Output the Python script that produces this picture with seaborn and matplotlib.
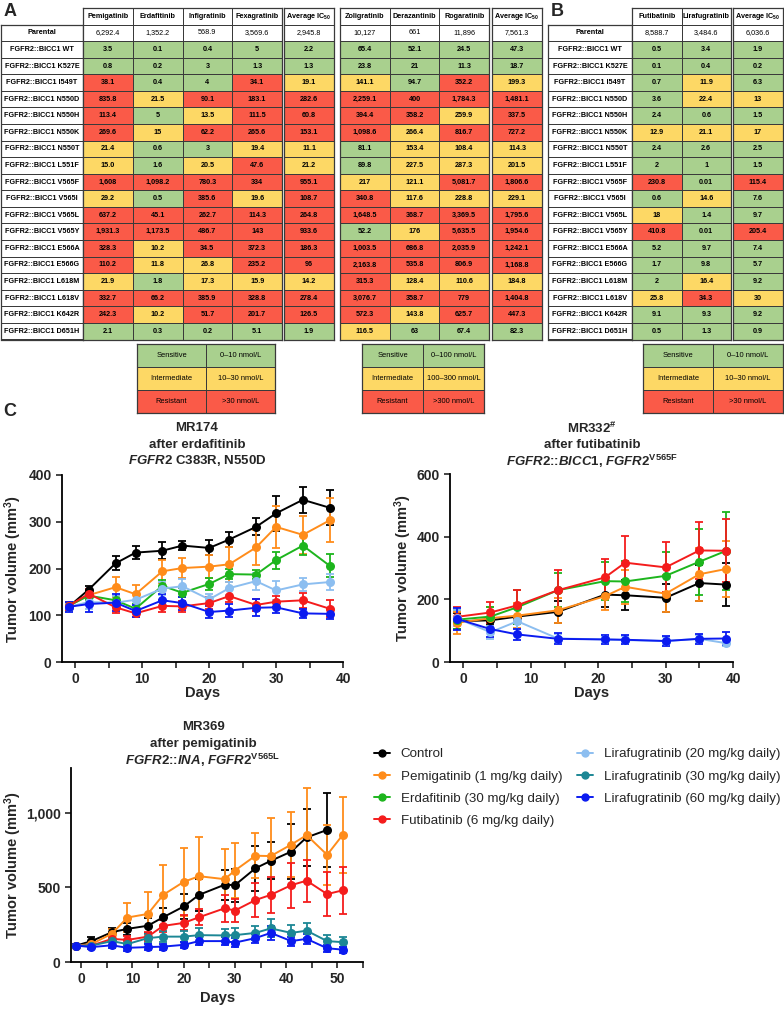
"""FGFR2 fusion resistance: IC50 tables and PDX growth curves."""

import matplotlib

matplotlib.use("Agg")

import matplotlib.pyplot as plt
import matplotlib.ticker as mticker
import numpy as np
import pandas as pd
import seaborn as sns
from matplotlib.colors import ListedColormap
from matplotlib.lines import Line2D

W, H = 784, 1009

# ---------------------------------------------------------------- table data
mutations = [
    "WT", "K527E", "I549T", "N550D", "N550H", "N550K", "N550T", "L551F", "V565F",
    "V565I", "V565L", "V565Y", "E566A", "E566G", "L618M", "L618V", "K642R", "D651H",
]
row_names = ["Parental"] + [f"FGFR2::BICC1 {m}" for m in mutations]

pemigatinib = ["6,292.4", "3.5", "0.8", "38.1", "835.8", "113.4", "269.6", "21.4", "15.0", "1,608",
               "29.2", "637.2", "1,931.3", "328.3", "110.2", "21.9", "332.7", "242.3", "2.1"]
erdafitinib = ["1,352.2", "0.1", "0.2", "0.4", "21.5", "5", "15", "0.6", "1.6", "1,098.2",
               "0.5", "45.1", "1,173.5", "10.2", "11.8", "1.8", "66.2", "10.2", "0.3"]
infigratinib = ["568.9", "0.4", "3", "4", "90.1", "13.5", "62.2", "3", "20.5", "780.3",
                "385.6", "262.7", "486.7", "34.5", "26.8", "17.3", "385.9", "51.7", "0.2"]
fexagratinib = ["3,569.6", "5", "1.3", "34.1", "183.1", "111.5", "265.6", "19.4", "47.6", "334",
                "19.6", "114.3", "143", "372.3", "235.2", "15.9", "328.8", "201.7", "5.1"]
average_a1 = ["2,945.8", "2.2", "1.3", "19.1", "282.6", "60.8", "153.1", "11.1", "21.2", "955.1",
              "108.7", "264.8", "933.6", "186.3", "96", "14.2", "278.4", "126.5", "1.9"]

zoligratinib = ["10,127", "65.4", "23.8", "141.1", "2,259.1", "394.4", "1,098.6", "81.1", "89.8", "217",
                "340.8", "1,648.5", "52.2", "1,003.5", "2,163.8", "315.3", "3,076.7", "572.3", "116.5"]
derazantinib = ["661", "52.1", "21", "94.7", "400", "358.2", "266.4", "153.4", "227.5", "121.1",
                "117.6", "368.7", "176", "686.8", "535.8", "128.4", "358.7", "143.8", "63"]
rogaratinib = ["11,896", "24.5", "11.3", "352.2", "1,784.3", "259.9", "816.7", "108.4", "287.3", "5,081.7",
               "228.8", "3,369.5", "5,635.5", "2,035.9", "806.9", "110.6", "779", "625.7", "67.4"]
average_a2 = ["7,561.3", "47.3", "18.7", "199.3", "1,481.1", "337.5", "727.2", "114.3", "201.5", "1,806.6",
              "229.1", "1,795.6", "1,954.6", "1,242.1", "1,168.8", "184.8", "1,404.8", "447.3", "82.3"]

futibatinib = ["8,588.7", "0.5", "0.1", "0.7", "3.6", "2.4", "12.9", "2.4", "2", "230.8",
               "0.6", "18", "410.8", "5.2", "1.7", "2", "25.8", "9.1", "0.5"]
lirafugratinib = ["3,484.6", "3.4", "0.4", "11.9", "22.4", "0.6", "21.1", "2.6", "1", "0.01",
                  "14.6", "1.4", "0.01", "9.7", "9.8", "16.4", "34.3", "9.3", "1.3"]
average_b = ["6,036.6", "1.9", "0.2", "6.3", "13", "1.5", "17", "2.5", "1.5", "115.4",
             "7.6", "9.7", "205.4", "7.4", "5.7", "9.2", "30", "9.2", "0.9"]

avg_header = "Average IC$_{50}$"
class_names = ["Sensitive", "Intermediate", "Resistant"]
cutoffs_a1 = (10, 30)
cutoffs_a2 = (100, 300)
cutoffs_b = (10, 30)

# ---------------------------------------------------------------- growth data
mr174_days = [-1, 2, 6, 9, 13, 16, 20, 23, 27, 30, 34, 38]
mr174_control = [118, 155, 211, 234, 238, 249, 244, 262, 289, 318, 347, 330]
mr174_control_sem = [8, 8, 15, 14, 18, 10, 16, 16, 18, 37, 28, 38]
mr174_pemi = [120, 143, 160, 145, 194, 201, 204, 209, 245, 289, 272, 303]
mr174_pemi_sem = [8, 10, 22, 20, 25, 22, 25, 38, 37, 45, 40, 47]
mr174_erda = [120, 142, 132, 114, 163, 148, 167, 188, 187, 218, 249, 206]
mr174_erda_sem = [8, 10, 10, 10, 12, 10, 12, 10, 10, 18, 20, 24]
mr174_futi = [120, 146, 117, 104, 120, 119, 126, 141, 122, 129, 132, 114]
mr174_futi_sem = [8, 10, 12, 8, 12, 12, 12, 12, 12, 12, 16, 18]
mr174_lira20 = [118, 128, 127, 133, 157, 162, 134, 158, 173, 153, 166, 171]
mr174_lira20_sem = [8, 14, 15, 12, 14, 15, 12, 14, 18, 20, 14, 18]
mr174_lira60 = [118, 124, 127, 109, 132, 126, 107, 110, 116, 117, 104, 103]
mr174_lira60_sem = [10, 18, 18, 12, 14, 14, 12, 14, 18, 12, 10, 10]

mr332_days = [-1, 4, 8, 14, 21, 24, 30, 35, 39]
mr332_control = [130, 133, 145, 160, 215, 213, 205, 252, 247]
mr332_control_sem = [25, 12, 25, 35, 40, 48, 45, 58, 68]
mr332_pemi = [125, 140, 148, 165, 210, 240, 218, 280, 297]
mr332_pemi_sem = [35, 35, 40, 40, 45, 55, 60, 85, 88]
mr332_erda = [135, 145, 175, 229, 258, 257, 275, 320, 355]
mr332_erda_sem = [30, 30, 55, 55, 60, 65, 75, 105, 125]
mr332_futi = [144, 158, 181, 229, 270, 317, 302, 356, 355]
mr332_futi_sem = [30, 35, 50, 65, 58, 85, 80, 90, 100]
mr332_lira20 = [140, 95, 130, 75, 72, 70, 67, 74, 60]
mr332_lira20_sem = [25, 20, 40, 15, 12, 12, 12, 12, 10]
mr332_lira60 = [138, 105, 88, 74, 72, 71, 67, 74, 75]
mr332_lira60_sem = [35, 25, 18, 18, 15, 15, 15, 15, 20]

mr369_days = [-1, 2, 6, 9, 13, 16, 20, 23, 28, 30, 34, 37, 41, 44, 48, 51]
mr369_control = [110, 140, 200, 222, 243, 300, 372, 450, 518, 515, 628, 678, 740, 835, 885]
mr369_control_sem = [10, 25, 25, 40, 50, 60, 85, 105, 100, 110, 150, 125, 185, 190, 250]
mr369_pemi = [110, 120, 190, 298, 322, 450, 537, 575, 555, 613, 712, 710, 787, 850, 718, 850]
mr369_pemi_sem = [10, 20, 30, 100, 145, 200, 230, 265, 205, 185, 150, 255, 220, 315, 200, 255]
mr369_futi = [110, 110, 155, 148, 170, 242, 262, 300, 360, 345, 415, 450, 515, 545, 455, 480]
mr369_futi_sem = [10, 15, 20, 25, 30, 40, 50, 55, 90, 75, 115, 120, 150, 140, 150, 155]
mr369_lira30 = [110, 110, 140, 120, 160, 170, 170, 180, 178, 180, 195, 225, 195, 210, 140, 133]
mr369_lira30_sem = [10, 15, 25, 25, 30, 35, 35, 45, 40, 45, 45, 60, 50, 50, 40, 35]
mr369_lira60 = [110, 100, 112, 95, 100, 103, 115, 140, 140, 130, 160, 195, 140, 155, 92, 83]
mr369_lira60_sem = [10, 15, 20, 20, 20, 20, 20, 25, 25, 30, 30, 45, 30, 35, 25, 20]

group_names = [
    "Control", "Pemigatinib (1 mg/kg daily)", "Erdafitinib (30 mg/kg daily)",
    "Futibatinib (6 mg/kg daily)", "Lirafugratinib (20 mg/kg daily)",
    "Lirafugratinib (30 mg/kg daily)", "Lirafugratinib (60 mg/kg daily)",
]
group_colors = ["#000000", "#FF8C1A", "#1DB51D", "#F41C1C", "#8CBEF0", "#1C8795", "#0B1BF0"]
palette = dict(zip(group_names, group_colors))

# ---------------------------------------------------------------- style
sns.set_theme(style="ticks")
plt.rcParams["font.family"] = ["Liberation Sans", "DejaVu Sans"]
plt.rcParams["mathtext.fontset"] = "custom"
plt.rcParams["mathtext.rm"] = "Liberation Sans:bold"
plt.rcParams["mathtext.bf"] = "Liberation Sans:bold"
plt.rcParams["mathtext.it"] = "Liberation Sans:italic:bold"

fig = plt.figure(figsize=(W / 100, H / 100), dpi=100)

GREEN, YELLOW, RED = "#A9D08E", "#FDD865", "#FA5A48"
cell_cmap = ListedColormap([GREEN, YELLOW, RED, "white"])
EDGE = "#3a3a3a"


def px_axes(x0, y0, x1, y1):
    return fig.add_axes([x0 / W, 1 - y1 / H, (x1 - x0) / W, (y1 - y0) / H])


def fig_text(x, y, s, **kw):
    return fig.text(x / W, 1 - y / H, s, **kw)


def classify(label, cutoffs):
    value = float(label.replace(",", ""))
    lo, hi = cutoffs
    return 0 if value <= lo else (1 if value <= hi else 2)


def box_frame(ax):
    for spine in ax.spines.values():
        spine.set_visible(True)
        spine.set_linewidth(0.9)
        spine.set_color(EDGE)


TOP, BOTTOM = 8, 339.5
ROW_H = (BOTTOM - TOP) / (len(row_names) + 1)


def table_block(x0, x1, headers, columns, cutoffs):
    ax = px_axes(x0, TOP, x1, BOTTOM)
    codes = [[3] * len(columns), [3] * len(columns)]
    labels = [headers, [col[0] for col in columns]]
    for i in range(1, len(row_names)):
        codes.append([classify(col[i], cutoffs) for col in columns])
        labels.append([col[i] for col in columns])
    sns.heatmap(np.array(codes), annot=np.array(labels, dtype=object), fmt="", cmap=cell_cmap,
                vmin=0, vmax=3, cbar=False, linewidths=0.7, linecolor=EDGE,
                xticklabels=False, yticklabels=False, ax=ax,
                annot_kws={"fontsize": 5.2, "fontweight": "bold", "color": "black"})
    for t in ax.texts:
        if int(t.get_position()[1]) == 1:
            t.set_fontweight("normal")
    box_frame(ax)


def label_block(x0, x1):
    ax = px_axes(x0, TOP + ROW_H, x1, BOTTOM)
    codes = np.full((len(row_names), 1), 3)
    sns.heatmap(codes, annot=np.array(row_names, dtype=object)[:, None], fmt="", cmap=cell_cmap,
                vmin=0, vmax=3, cbar=False, linewidths=0.7, linecolor=EDGE,
                xticklabels=False, yticklabels=False, ax=ax,
                annot_kws={"fontsize": 5.2, "fontweight": "bold", "color": "black"})
    box_frame(ax)


def key_block(x0, x1, cutoffs):
    lo, hi = cutoffs
    ranges = [f"0\u2013{lo} nmol/L", f"{lo}\u2013{hi} nmol/L", f">{hi} nmol/L"]
    ax = px_axes(x0, 344, x1, 413)
    codes = np.array([[0, 0], [1, 1], [2, 2]])
    labels = np.array([[n, r] for n, r in zip(class_names, ranges)], dtype=object)
    sns.heatmap(codes, annot=labels, fmt="", cmap=cell_cmap, vmin=0, vmax=3, cbar=False,
                linewidths=0.7, linecolor=EDGE, xticklabels=False, yticklabels=False, ax=ax,
                annot_kws={"fontsize": 5.4, "color": "black"})
    box_frame(ax)


label_block(1, 83)
table_block(83, 282, ["Pemigatinib", "Erdafitinib", "Infigratinib", "Fexagratinib"],
            [pemigatinib, erdafitinib, infigratinib, fexagratinib], cutoffs_a1)
table_block(284, 334, [avg_header], [average_a1], cutoffs_a1)
table_block(340, 489, ["Zoligratinib", "Derazantinib", "Rogaratinib"],
            [zoligratinib, derazantinib, rogaratinib], cutoffs_a2)
table_block(492, 542, [avg_header], [average_a2], cutoffs_a2)
label_block(548, 632)
table_block(632, 731, ["Futibatinib", "Lirafugratinib"], [futibatinib, lirafugratinib], cutoffs_b)
table_block(733, 783, [avg_header], [average_b], cutoffs_b)

key_block(137, 275, cutoffs_a1)
key_block(362, 484, cutoffs_a2)
key_block(643, 783, cutoffs_b)

for letter, x, y in [("A", 10, 12), ("B", 557, 12), ("C", 10, 412)]:
    fig_text(x, y, letter, fontsize=13, fontweight="bold", ha="center", va="center")


# ---------------------------------------------------------------- growth curves
def growth_panel(ax, days, series, xlim, ylim, yticks, xmax_tick):
    frames = []
    for group, (mean, sem) in series.items():
        n = len(mean)
        frames.append(pd.DataFrame({"day": days[:n], "volume": mean, "sem": sem, "group": group}))
    df = pd.concat(frames, ignore_index=True)
    for group, sub in df.groupby("group", sort=False):
        ax.errorbar(sub["day"], sub["volume"], yerr=sub["sem"], fmt="none",
                    ecolor=palette[group], elinewidth=1.3, capsize=3, capthick=1.3, zorder=2)
    sns.lineplot(data=df, x="day", y="volume", hue="group", hue_order=list(series),
                 palette=palette, marker="o", markersize=6.5, markeredgewidth=0,
                 linewidth=1.4, errorbar=None, legend=False, sort=True, ax=ax, zorder=3)
    ax.set_xlim(*xlim)
    ax.set_ylim(*ylim)
    ax.set_yticks(yticks)
    ax.set_xticks(np.arange(0, xmax_tick + 1, 10))
    ax.xaxis.set_minor_locator(mticker.MultipleLocator(5))
    ax.yaxis.set_major_formatter(mticker.StrMethodFormatter("{x:,.0f}"))
    ax.tick_params(which="both", direction="out", length=4, width=1.2, labelsize=10)
    for lab in ax.get_xticklabels() + ax.get_yticklabels():
        lab.set_fontweight("bold")
    sns.despine(ax=ax)
    for side in ("left", "bottom"):
        ax.spines[side].set_linewidth(1.3)
        ax.spines[side].set_color("black")
    ax.set_xlabel("Days", fontsize=10.5, fontweight="bold")
    ax.set_ylabel("Tumor volume (mm$^{\\mathrm{3}}$)", fontsize=10.5, fontweight="bold")


def title_lines(x, y, lines):
    for i, s in enumerate(lines):
        fig_text(x, y + 16.5 * i, s, fontsize=9.5, fontweight="bold", ha="center", va="center")


ax1 = px_axes(62, 475, 343, 662)
growth_panel(ax1, mr174_days, {
    group_names[0]: (mr174_control, mr174_control_sem),
    group_names[1]: (mr174_pemi, mr174_pemi_sem),
    group_names[2]: (mr174_erda, mr174_erda_sem),
    group_names[4]: (mr174_lira20, mr174_lira20_sem),
    group_names[3]: (mr174_futi, mr174_futi_sem),
    group_names[6]: (mr174_lira60, mr174_lira60_sem),
}, (-2, 40), (0, 400), [0, 100, 200, 300, 400], 40)
ax1.yaxis.set_label_coords(-0.135, 0.5)
ax1.xaxis.set_label_coords(0.5, -0.13)
title_lines(197, 428, ["MR174", "after erdafitinib", "$\\mathit{FGFR2}$ C383R, N550D"])

ax2 = px_axes(450, 474, 733, 662)
growth_panel(ax2, mr332_days, {
    group_names[0]: (mr332_control, mr332_control_sem),
    group_names[1]: (mr332_pemi, mr332_pemi_sem),
    group_names[2]: (mr332_erda, mr332_erda_sem),
    group_names[3]: (mr332_futi, mr332_futi_sem),
    group_names[4]: (mr332_lira20, mr332_lira20_sem),
    group_names[6]: (mr332_lira60, mr332_lira60_sem),
}, (-2, 40), (0, 600), [0, 200, 400, 600], 40)
ax2.yaxis.set_label_coords(-0.127, 0.5)
ax2.xaxis.set_label_coords(0.5, -0.13)
title_lines(592, 428, ["MR332$^{\\#}$", "after futibatinib",
                       "$\\mathit{FGFR2}$::$\\mathit{BICC1}$, $\\mathit{FGFR2}^{\\mathrm{V565F}}$"])

ax3 = px_axes(71, 768, 363, 962)
growth_panel(ax3, mr369_days, {
    group_names[0]: (mr369_control, mr369_control_sem),
    group_names[1]: (mr369_pemi, mr369_pemi_sem),
    group_names[3]: (mr369_futi, mr369_futi_sem),
    group_names[5]: (mr369_lira30, mr369_lira30_sem),
    group_names[6]: (mr369_lira60, mr369_lira60_sem),
}, (-2, 55), (0, 1300), [0, 500, 1000], 50)
ax3.yaxis.set_label_coords(-0.161, 0.5)
ax3.xaxis.set_label_coords(0.503, -0.15)
title_lines(203, 727, ["MR369", "after pemigatinib",
                       "$\\mathit{FGFR2}$::$\\mathit{INA}$, $\\mathit{FGFR2}^{\\mathrm{V565L}}$"])

handles = [Line2D([], [], color=c, marker="o", markersize=5, linewidth=1.4) for c in group_colors]
fig.legend(handles, group_names, ncol=2, loc="upper left",
           bbox_to_anchor=(374 / W, 1 - 748 / H), frameon=False, fontsize=9.6,
           handlelength=1.2, handletextpad=0.8, columnspacing=1.1, labelspacing=0.74,
           borderpad=0, borderaxespad=0)

fig.savefig("out.png", dpi=100)
